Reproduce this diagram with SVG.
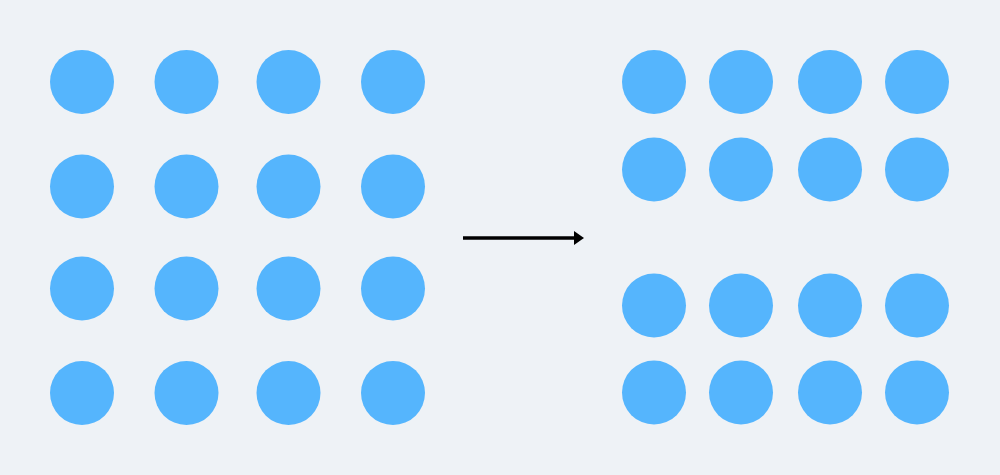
<svg xmlns="http://www.w3.org/2000/svg" width="1000" height="475" viewBox="0 0 1000 475">
<style>
.dot{fill:#55b5fd}
.conn{stroke:#000;stroke-width:3.5;fill:none}
</style>
<defs>
<marker id="ah" markerWidth="10" markerHeight="14" refX="0" refY="7" orient="auto" markerUnits="userSpaceOnUse">
<path d="M0,0 L10,7 L0,14 Z" fill="#000"/>
</marker>
</defs>
<rect width="1000" height="475" fill="#eef2f6"/>
<g id="left-grid">
<g id="l11"><circle class="dot" cx="82" cy="82" r="32"/></g>
<g id="l12"><circle class="dot" cx="186.5" cy="82" r="32"/></g>
<g id="l13"><circle class="dot" cx="288.5" cy="82" r="32"/></g>
<g id="l14"><circle class="dot" cx="393" cy="82" r="32"/></g>
<g id="l21"><circle class="dot" cx="82" cy="186.5" r="32"/></g>
<g id="l22"><circle class="dot" cx="186.5" cy="186.5" r="32"/></g>
<g id="l23"><circle class="dot" cx="288.5" cy="186.5" r="32"/></g>
<g id="l24"><circle class="dot" cx="393" cy="186.5" r="32"/></g>
<g id="l31"><circle class="dot" cx="82" cy="288.5" r="32"/></g>
<g id="l32"><circle class="dot" cx="186.5" cy="288.5" r="32"/></g>
<g id="l33"><circle class="dot" cx="288.5" cy="288.5" r="32"/></g>
<g id="l34"><circle class="dot" cx="393" cy="288.5" r="32"/></g>
<g id="l41"><circle class="dot" cx="82" cy="393" r="32"/></g>
<g id="l42"><circle class="dot" cx="186.5" cy="393" r="32"/></g>
<g id="l43"><circle class="dot" cx="288.5" cy="393" r="32"/></g>
<g id="l44"><circle class="dot" cx="393" cy="393" r="32"/></g>
</g>
<g id="right-grid">
<g id="r11"><circle class="dot" cx="654" cy="82" r="32"/></g>
<g id="r12"><circle class="dot" cx="741" cy="82" r="32"/></g>
<g id="r13"><circle class="dot" cx="830" cy="82" r="32"/></g>
<g id="r14"><circle class="dot" cx="917" cy="82" r="32"/></g>
<g id="r21"><circle class="dot" cx="654" cy="169.5" r="32"/></g>
<g id="r22"><circle class="dot" cx="741" cy="169.5" r="32"/></g>
<g id="r23"><circle class="dot" cx="830" cy="169.5" r="32"/></g>
<g id="r24"><circle class="dot" cx="917" cy="169.5" r="32"/></g>
<g id="r31"><circle class="dot" cx="654" cy="305.5" r="32"/></g>
<g id="r32"><circle class="dot" cx="741" cy="305.5" r="32"/></g>
<g id="r33"><circle class="dot" cx="830" cy="305.5" r="32"/></g>
<g id="r34"><circle class="dot" cx="917" cy="305.5" r="32"/></g>
<g id="r41"><circle class="dot" cx="654" cy="392.5" r="32"/></g>
<g id="r42"><circle class="dot" cx="741" cy="392.5" r="32"/></g>
<g id="r43"><circle class="dot" cx="830" cy="392.5" r="32"/></g>
<g id="r44"><circle class="dot" cx="917" cy="392.5" r="32"/></g>
</g>
<g id="connectors">
<line class="conn" x1="463" y1="238" x2="574" y2="238" marker-end="url(#ah)"/>
</g>
</svg>
